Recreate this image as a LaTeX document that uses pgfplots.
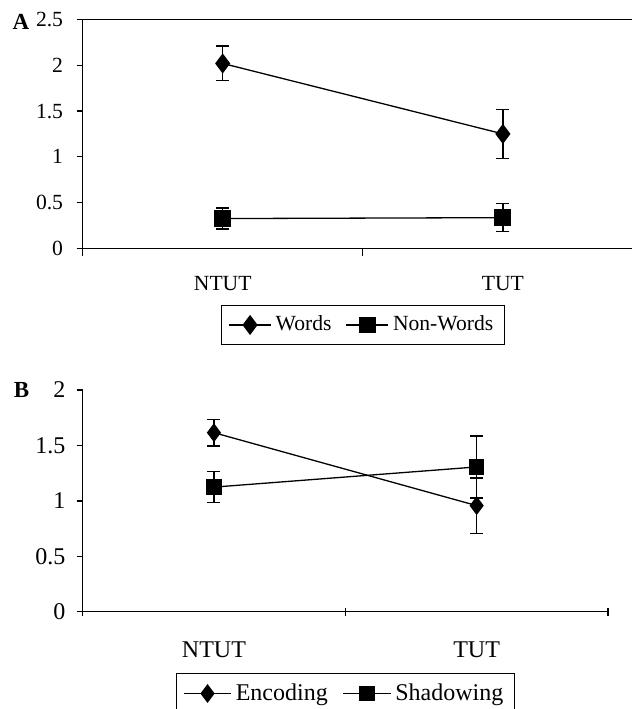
\documentclass[border=0pt]{standalone}
\usepackage{fontspec}
\setmainfont{Liberation Serif}
\usepackage{pgfplots}
\pgfplotsset{compat=1.18}
\pgfplotsset{
  panel/.style={
    scale only axis, anchor=south west,
    xmin=-0.5, xmax=1.5,
    axis y line=left,
    axis line style={-, line width=0.65pt, black},
    tick align=outside, tick pos=left,
    xtick={0,1}, xticklabels={NTUT,TUT},
    minor xtick={-0.5,0.5,1.5},
    major x tick style={draw=none},
    minor tick length=3.8pt, major tick length=3pt,
    tick style={line width=0.65pt, black},
    /pgf/number format/assume math mode=true,
    legend columns=2,
    legend style={draw=black, line width=0.5pt, anchor=center,
      inner xsep=3.5pt, inner ysep=3.2pt},
    /tikz/every even column/.append style={column sep=5pt},
  },
  noarrows/.style={
    every outer x axis line/.append style={-},
    every outer y axis line/.append style={-},
    every inner x axis line/.append style={-},
    every inner y axis line/.append style={-},
    x axis line style={-}, y axis line style={-}},
  errs/.style={
    error bars/y dir=both, error bars/y explicit,
    error bars/error mark options={rotate=90, mark size=3.25pt, line width=0.65pt, black},
    error bars/error bar style={line width=0.65pt, black}},
  dia/.style={black, line width=0.65pt, mark=diamond*, mark size=4.5pt,
    mark options={solid, fill=black}, errs},
  sq/.style={black, line width=0.65pt, mark=square*, mark size=3.9pt,
    mark options={solid, fill=black}, errs},
}
\begin{document}
\fontsize{10.8}{12.8}\selectfont
\begin{tikzpicture}
\useasboundingbox (0,0) rectangle (316pt,-354.5pt);
\begin{axis}[panel, at={(41.3pt,-124.15pt)}, width=280.2pt, height=114.4pt,
  axis x line=box, tick pos=left, noarrows,
  ticklabel style={font=\fontsize{10.8}{12.8}\selectfont},
  legend style={font=\fontsize{10.8}{12.8}\selectfont},
  legend image code/.code={\draw[mark repeat=2,mark phase=2,#1] plot coordinates {(0cm,0cm) (0.37cm,0cm) (0.74cm,0cm)};},
  xticklabel style={yshift=-7pt},
  yticklabel style={xshift=-3pt},
  ymin=0, ymax=2.5, ytick={0,0.5,1,1.5,2,2.5},
  yticklabels={0,0.5,1,1.5,2,2.5},
  legend style={at={(0.5,-0.335)}}]
\addplot[dia] table[x=x, y=y, y error=e] {
x y e
0 2.02 0.19
1 1.25 0.27
};
\addlegendentry{Words}
\addplot[sq] table[x=x, y=y, y error=e] {
x y e
0 0.325 0.115
1 0.335 0.155
};
\addlegendentry{Non-Words}
\end{axis}
\begin{axis}[panel, at={(41.3pt,-305.85pt)}, width=262.7pt, height=110.85pt,
  axis x line=bottom, tick pos=left, noarrows,
  ticklabel style={font=\fontsize{12}{14}\selectfont},
  legend style={font=\fontsize{12}{14}\selectfont, inner xsep=3.5pt},
  /tikz/every even column/.append style={column sep=5.5pt},
  legend image code/.code={\draw[mark repeat=2,mark phase=2,#1] plot coordinates {(0cm,0cm) (0.415cm,0cm) (0.83cm,0cm)};},
  xticklabel style={yshift=-9.5pt},
  yticklabel style={xshift=-1.8pt},
  ymin=0, ymax=2, ytick={0,0.5,1,1.5,2},
  yticklabels={0,0.5,1,1.5,2},
  legend style={at={(0.5,-0.369)}}]
\addplot[dia, mark size=4.2pt] table[x=x, y=y, y error=e] {
x y e
0 1.615 0.12
1 0.957 0.25
};
\addlegendentry{Encoding}
\addplot[sq, mark size=3.6pt] table[x=x, y=y, y error=e] {
x y e
0 1.124 0.14
1 1.306 0.28
};
\addlegendentry{Shadowing}
\end{axis}
\node[font=\bfseries\fontsize{11.5}{13}\selectfont] at (10.5pt,-11pt) {A};
\node[font=\bfseries\fontsize{11.5}{13}\selectfont] at (10.8pt,-195pt) {B};
\end{tikzpicture}
\end{document}
